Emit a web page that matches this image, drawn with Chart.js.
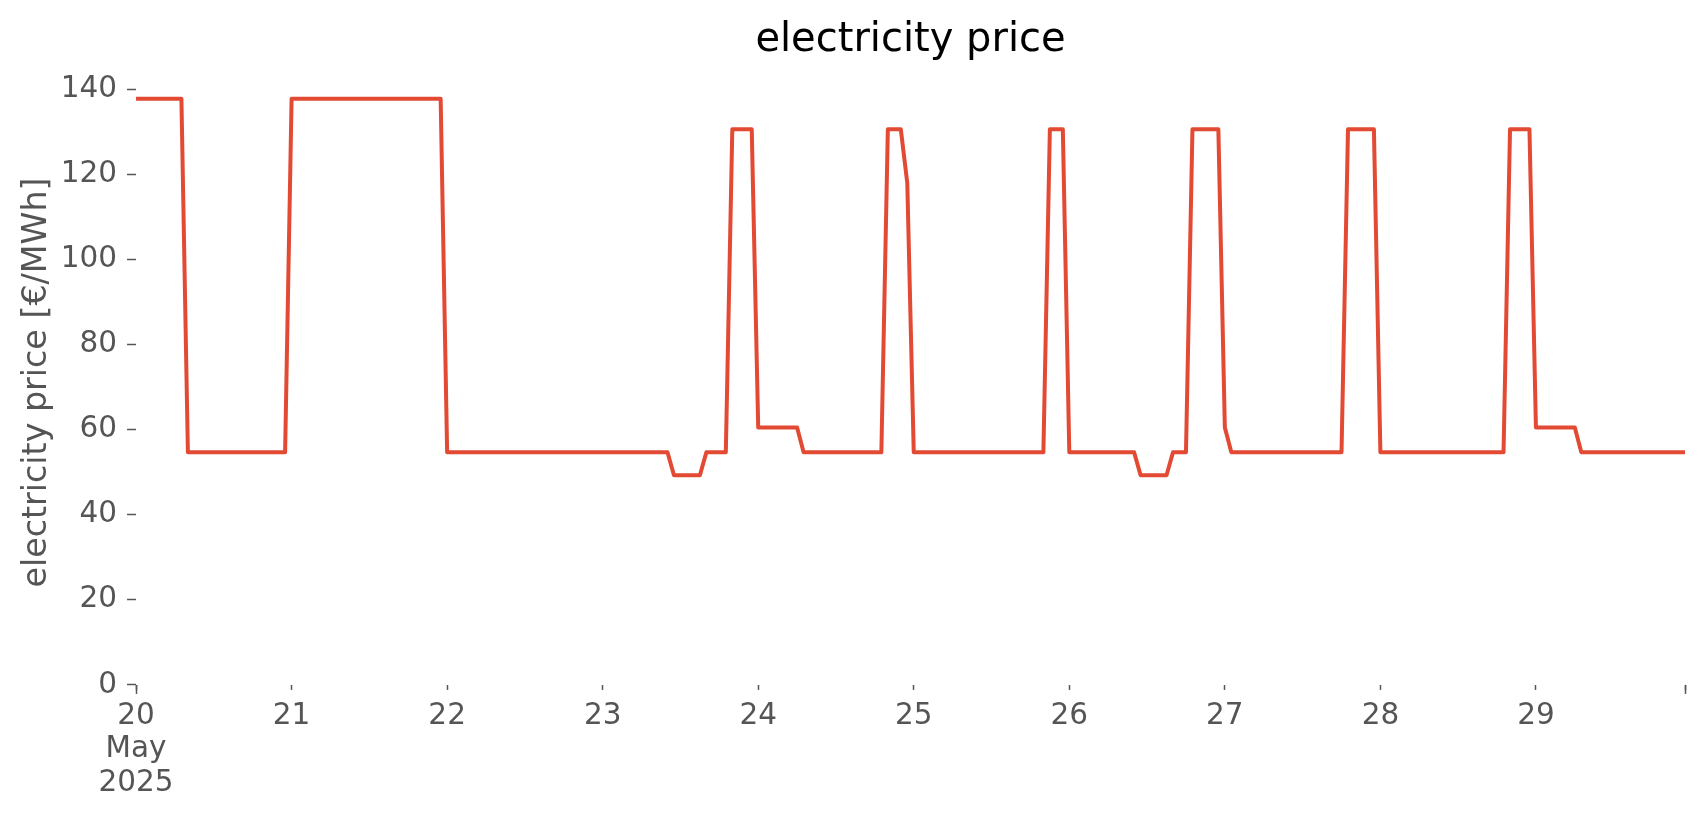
<!DOCTYPE html>
<html>
<head>
<meta charset="utf-8">
<title>electricity price</title>
<script src="https://cdn.jsdelivr.net/npm/chart.js@4.4.1/dist/chart.umd.min.js"></script>
<style>
  html, body { margin: 0; padding: 0; background: #fff; }
  #wrap { width: 1706px; height: 815px; }
</style>
</head>
<body>
<div id="wrap"><canvas id="priceChart" width="1706" height="815"></canvas></div>
<script>
// hours since 20 May 2025 00:00 where the price changes (hourly series)
const hours  = [0, 7, 8, 23, 24, 47, 48, 82, 83, 87, 88, 91, 92, 95, 96, 102, 103,
                115, 116, 118, 119, 120, 140, 141, 143, 144, 154, 155, 159, 160, 162,
                163, 167, 168, 169, 186, 187, 191, 192, 211, 212, 215, 216, 222, 223, 239];
// electricity price [€/MWh] at those hours
const prices = [137.8, 137.8, 54.7, 54.7, 137.8, 137.8, 54.7, 54.7, 49.3, 49.3, 54.7, 54.7, 130.6, 130.6, 60.5, 60.5, 54.7,
                54.7, 130.6, 130.6, 118.0, 54.7, 54.7, 130.6, 130.6, 54.7, 54.7, 49.3, 49.3, 54.7, 54.7,
                130.6, 130.6, 60.5, 54.7, 54.7, 130.6, 130.6, 54.7, 54.7, 130.6, 130.6, 60.5, 60.5, 54.7, 54.7];

const dayLabels = ['20', '21', '22', '23', '24', '25', '26', '27', '28', '29'];
const firstLabel = ['20', 'May', '2025'];
const yTicks = [0, 20, 40, 60, 80, 100, 120, 140];

const FONT = "'DejaVu Sans', sans-serif";
const GREY = '#555555';

const points = hours.map((h, i) => ({ x: h, y: prices[i] }));

// longer (major) tick marks at both ends of the date axis
const majorTicks = {
    id: 'majorTicks',
    afterDraw(chart) {
        const xs = chart.scales.x;
        const ctx = chart.ctx;
        ctx.save();
        ctx.strokeStyle = GREY;
        ctx.lineWidth = 1.5;
        [xs.min, xs.max].forEach(v => {
            const px = Math.round(xs.getPixelForValue(v)) + 0.5;
            ctx.beginPath();
            ctx.moveTo(px, xs.top);
            ctx.lineTo(px, xs.top + 9);
            ctx.stroke();
        });
        ctx.restore();
    }
};

new Chart(document.getElementById('priceChart').getContext('2d'), {
    type: 'line',
    data: {
        datasets: [{
            label: 'electricity price',
            data: points,
            borderColor: '#E24A33',
            borderWidth: 4,
            borderJoinStyle: 'round',
            pointRadius: 0,
            tension: 0,
            fill: false
        }]
    },
    options: {
        responsive: false,
        animation: false,
        events: [],
        layout: { padding: { left: 3.3, right: 21, top: 0, bottom: 5.6 } },
        plugins: {
            legend: { display: false },
            tooltip: { enabled: false },
            title: {
                display: true,
                text: 'electricity price',
                color: '#000',
                fullSize: false,
                font: { family: FONT, size: 40, weight: 'normal', lineHeight: 1.2 },
                padding: { top: 17, bottom: 15 }
            }
        },
        scales: {
            x: {
                type: 'linear',
                min: hours[0],
                max: hours[hours.length - 1],
                border: { display: false },
                grid: { drawOnChartArea: false, tickLength: 5, tickColor: GREY, tickWidth: 1.5 },
                afterBuildTicks: (scale) => {
                    const t = dayLabels.map((d, i) => ({ value: i * 24 }));
                    t.push({ value: hours[hours.length - 1] });
                    scale.ticks = t;
                },
                ticks: {
                    autoSkip: false,
                    maxRotation: 0,
                    padding: 9.3,
                    color: GREY,
                    font: { family: FONT, size: 29.5, lineHeight: 1.14 },
                    callback: (v) => {
                        if (v === 0) return firstLabel;
                        const i = v / 24;
                        return Number.isInteger(i) && i < dayLabels.length ? dayLabels[i] : '';
                    }
                }
            },
            y: {
                min: 0,
                max: 142.2,
                border: { display: false },
                grid: { drawOnChartArea: false, tickLength: 9, tickColor: GREY, tickWidth: 1.5 },
                afterBuildTicks: (scale) => { scale.ticks = yTicks.map(v => ({ value: v })); },
                ticks: {
                    padding: 10,
                    color: GREY,
                    font: { family: FONT, size: 29.5 }
                },
                title: {
                    display: true,
                    text: 'electricity price [€/MWh]',
                    color: GREY,
                    font: { family: FONT, size: 33.3, lineHeight: 0.8 },
                    padding: { top: 20.8, bottom: 0 }
                }
            }
        }
    },
    plugins: [majorTicks]
});
</script>
</body>
</html>
